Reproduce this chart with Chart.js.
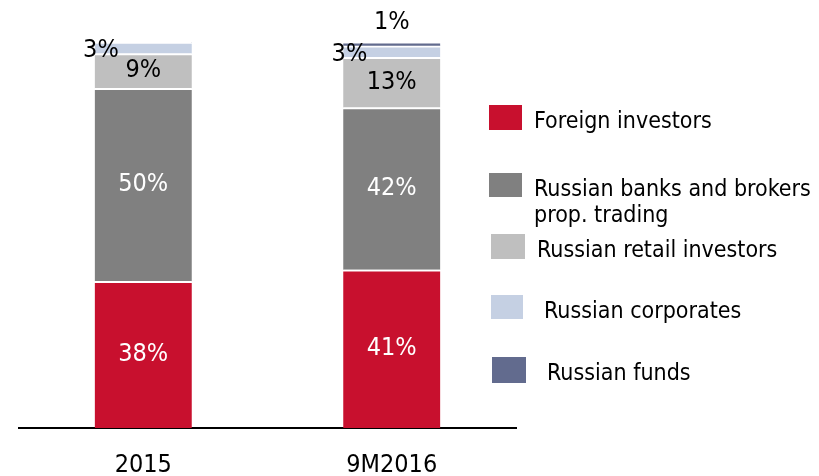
<!DOCTYPE html>
<html>
<head>
<meta charset="utf-8">
<script src="https://cdn.jsdelivr.net/npm/chart.js@4/dist/chart.umd.min.js"></script>
<style>
  html, body { margin: 0; padding: 0; background: #fff; overflow: hidden; }
  #wrap { position: relative; width: 819px; height: 476px; overflow: hidden; }
</style>
</head>
<body>
<div id="wrap"><canvas id="shareChart" width="819" height="503"></canvas></div>
<script>
// Investor structure of trading volume, % of total
const periods = ['2015', '9M2016'];
const seriesNames = [
    'Foreign investors',
    'Russian banks and brokers prop. trading',
    'Russian retail investors',
    'Russian corporates',
    'Russian funds'
];
const foreignInvestors = [38, 41];
const banksAndBrokers = [50, 42];
const retailInvestors = [9, 13];
const corporates = [3, 3];
const funds = [0, 1];

const seriesColors = ['#C8102E', '#808080', '#BFBFBF', '#C5D0E3', '#626B8E'];
const labelColors = ['#fff', '#fff', '#000', '#000', '#000'];
const FONT = '"DejaVu Sans Condensed", "DejaVu Sans", sans-serif';

const seriesValues = [foreignInvestors, banksAndBrokers, retailInvestors, corporates, funds];

const datasets = seriesValues.map((values, i) => ({
    label: seriesNames[i],
    data: values,
    backgroundColor: seriesColors[i],
    borderColor: '#fff',
    borderWidth: { top: 2, bottom: 0, left: 0, right: 0 },
    borderSkipped: false,
    barThickness: 97
}));

// Percent labels: inside for big segments, beside/above for the thin ones
const valueLabels = {
    id: 'valueLabels',
    afterDatasetsDraw(chart) {
        const ctx = chart.ctx;
        ctx.save();
        ctx.font = '25px ' + FONT;
        chart.data.datasets.forEach((ds, di) => {
            const meta = chart.getDatasetMeta(di);
            meta.data.forEach((bar, idx) => {
                const v = ds.data[idx];
                if (!v) return;
                const text = v + '%';
                const mid = (bar.y + bar.base) / 2;
                ctx.fillStyle = labelColors[di];
                ctx.textBaseline = 'middle';
                if (di === 4) {
                    ctx.textAlign = 'center';
                    ctx.fillText(text, bar.x, bar.y - 20);
                } else if (di === 3) {
                    ctx.textAlign = 'right';
                    ctx.fillText(text, bar.x - bar.width / 2 + 24, mid + 3);
                } else {
                    ctx.textAlign = 'center';
                    ctx.fillText(text, bar.x, mid);
                }
            });
        });
        ctx.restore();
    }
};

// Legend drawn at the right of the plot
const sideLegend = {
    id: 'sideLegend',
    afterDraw(chart) {
        const ctx = chart.ctx;
        const rows = [
            { box: [489, 105, 33, 25], tx: 534, lines: ['Foreign investors'], base: 128 },
            { box: [489, 173, 33, 24], tx: 534, lines: ['Russian banks and brokers', 'prop. trading'], base: 196 },
            { box: [491, 234, 34, 25], tx: 537, lines: ['Russian retail investors'], base: 257 },
            { box: [491, 295, 32, 24], tx: 544, lines: ['Russian corporates'], base: 318 },
            { box: [492, 357, 34, 26], tx: 547, lines: ['Russian funds'], base: 380 }
        ];
        ctx.save();
        ctx.font = '23px ' + FONT;
        ctx.textAlign = 'left';
        ctx.textBaseline = 'alphabetic';
        rows.forEach((row, i) => {
            ctx.fillStyle = seriesColors[i];
            ctx.fillRect(row.box[0], row.box[1], row.box[2], row.box[3]);
            ctx.fillStyle = '#000';
            row.lines.forEach((line, li) => {
                ctx.fillText(line, row.tx, row.base + li * 26);
            });
        });
        ctx.restore();
    }
};

new Chart(document.getElementById('shareChart'), {
    type: 'bar',
    data: { labels: periods, datasets: datasets },
    options: {
        responsive: false,
        animation: false,
        layout: { padding: { left: 19, right: 303, top: 42, bottom: 0 } },
        plugins: {
            legend: { display: false },
            tooltip: { enabled: false }
        },
        scales: {
            x: {
                stacked: true,
                grid: { display: false, drawTicks: false },
                border: { display: true, color: '#000', width: 2 },
                ticks: {
                    color: '#000',
                    padding: 25,
                    font: { family: FONT, size: 25, lineHeight: 1 }
                }
            },
            y: {
                stacked: true,
                display: false,
                min: 0,
                max: 100
            }
        }
    },
    plugins: [valueLabels, sideLegend]
});
</script>
</body>
</html>
